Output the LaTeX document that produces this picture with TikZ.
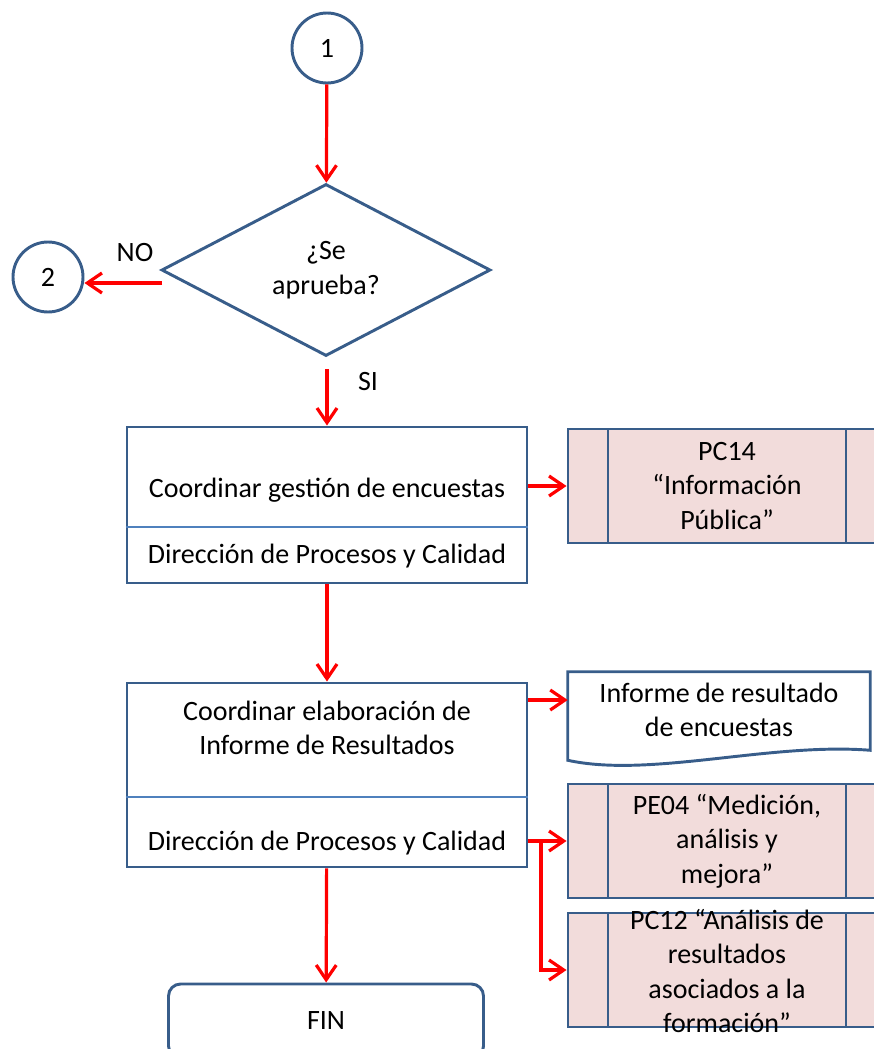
\documentclass[tikz,border=0pt]{standalone}
\usepackage{fontspec}
\setmainfont{Carlito}
\usetikzlibrary{shapes.geometric,arrows.meta,calc}

\definecolor{shapeblue}{RGB}{56,93,138}
\definecolor{splitblue}{RGB}{79,129,189}
\definecolor{predefpink}{RGB}{242,220,219}

\begin{document}
\begin{tikzpicture}[x=0.75pt,y=-0.75pt,
  every node/.style={font=\fontsize{21}{25.9}\selectfont},
  connector/.style={draw=shapeblue,circle,line width=2.2pt,minimum size=52.5pt,inner sep=0pt},
  decision/.style={draw=shapeblue,diamond,line width=2.2pt,minimum width=246.75pt,minimum height=129pt,inner sep=0pt,align=center},
  procbox/.style={draw=shapeblue,line width=2.2pt,minimum width=300pt},
  splitline/.style={draw=splitblue,line width=1.6pt},
  predef/.style={draw=shapeblue,fill=predefpink,line width=2.2pt,minimum width=238.5pt,minimum height=85.5pt,align=center,
    path picture={
      \draw[shapeblue,line width=2.2pt] ([xshift=30pt]path picture bounding box.north west) -- ([xshift=30pt]path picture bounding box.south west);
      \draw[shapeblue,line width=2.2pt] ([xshift=-30pt]path picture bounding box.north east) -- ([xshift=-30pt]path picture bounding box.south east);
    }},
  flow/.style={draw=red,line width=2.4pt,-{Straight Barb[length=11pt,width=15pt]}}
]

\useasboundingbox (0,0) rectangle (874,1049);
\clip (0,0) rectangle (874,1049);

% connectors and decision
\node[connector] (c1) at (327,48) {1};
\node[decision] (aprueba) at (326,270) {¿Se\\aprueba?};
\node[connector] (c2) at (48,277) {2};
\node (no) at (135,253) {NO};
\node (si) at (368,382) {SI};
\coordinate (noStart) at (162,283);
\coordinate (siStart) at (327,369);

\draw[flow] (c1) -- (aprueba);
\draw[flow] (noStart) -- (noStart -| c2.east);

% first activity
\node[procbox,minimum height=117pt] (gestion) at (327,505) {};
\node (gestionTxt) at (327,490) {Coordinar gestión de encuestas};
\node (gestionResp) at (327,556) {Dirección de Procesos y Calidad};
\draw[splitline] (gestion.west |- 0,527) -- (gestion.east |- 0,527);
\node[predef] (pc14) at (727,486) {PC14\\“Información\\Pública”};

\draw[flow] (siStart) -- (gestion);
\draw[flow] (gestion.east |- pc14.west) -- (pc14.west);

% second activity
\node[procbox,minimum height=138pt] (informeRes) at (327,775) {};
\node[align=center] (informeResTxt) at (327,728) {Coordinar elaboración de\\Informe de Resultados};
\node (informeResResp) at (327,843) {Dirección de Procesos y Calidad};
\draw[splitline] (informeRes.west |- 0,797) -- (informeRes.east |- 0,797);

\draw[flow] (gestion) -- (informeRes);

% document
\node[minimum width=226.5pt,minimum height=57pt,align=center] (informe) at (719,710) {Informe de resultado\\de encuestas};
\draw[shapeblue,line width=2.2pt] (informe.north west) -- (informe.north east)
  -- ($(informe.south east)+(0,2)$)
  .. controls ($(informe.south)+(51,-6)$) and ($(informe.south)+(-69,30)$) .. ($(informe.south west)+(0,12)$)
  -- cycle;
\coordinate (informeIn) at ([yshift=7.5pt]informe.west);
\draw[flow] (informeRes.east |- informeIn) -- (informeIn);

% related processes
\node[predef] (pe04) at (727,841) {PE04 “Medición,\\análisis y\\mejora”};
\node[predef] (pc12) at (727,970) {};
\node[align=center] (pc12Txt) at (727,971) {PC12 “Análisis de\\resultados\\asociados a la\\formación”};
\coordinate (branch) at (541,843);

\draw[flow] (informeRes.east |- pe04.west) -- (pe04.west);
\draw[flow] (branch) |- (pc12.west);

% end
\node[draw=shapeblue,rounded corners=9pt,line width=2.2pt,minimum width=236.25pt,minimum height=55.5pt] (fin) at (326,1021) {FIN};
\draw[flow] (informeRes) -- (fin);

\end{tikzpicture}
\end{document}
